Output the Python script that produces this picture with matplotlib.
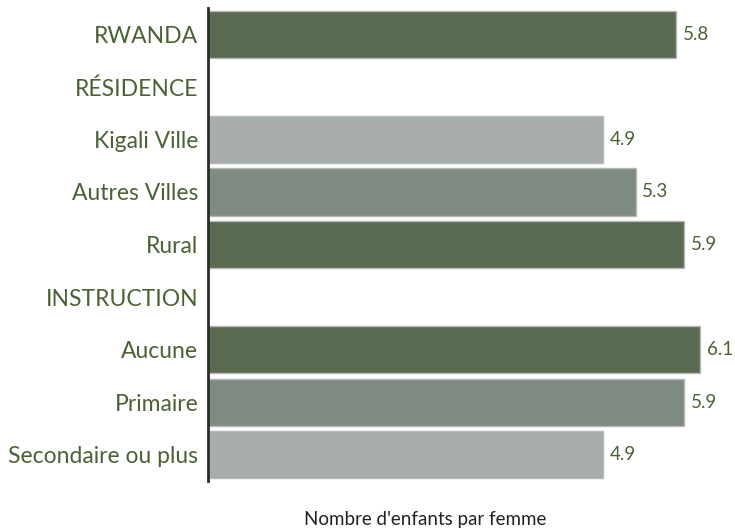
import matplotlib
matplotlib.use("Agg")
import matplotlib.pyplot as plt

# Donnees
categories = ["RWANDA", "RÉSIDENCE", "Kigali Ville", "Autres Villes", "Rural",
              "INSTRUCTION", "Aucune", "Primaire", "Secondaire ou plus"]
valeurs = [5.8, None, 4.9, 5.3, 5.9, None, 6.1, 5.9, 4.9]
couleurs = ["#5a6a51", None, "#a6adac", "#7f8a82", "#5a6a51",
            None, "#5a6a51", "#7f8a82", "#a6adac"]

texte_vert = "#4a6234"
plt.rcParams['font.family'] = ['Lato', 'DejaVu Sans']

fig = plt.figure(figsize=(7.35, 5.31), dpi=100)
ax = fig.add_axes([208 / 735, 1 - 481 / 531, 1 - 208 / 735, 473 / 531])

for i, (v, c) in enumerate(zip(valeurs, couleurs)):
    if v is None:
        continue
    ax.barh(i, v, height=0.9, color=c, edgecolor="#b5b8b6", linewidth=1)
    ax.text(v + 0.08, i, f"{v:.1f}", va="center", ha="left",
            fontsize=13.5, color=texte_vert)

ax.set_ylim(len(categories) - 0.5, -0.5)
ax.set_xlim(0, 527 / 80.7)
ax.set_yticks(range(len(categories)))
ax.set_yticklabels(categories, fontsize=16.5, color=texte_vert)
ax.tick_params(axis="y", length=0, pad=7)
ax.set_xticks([])

for s in ["top", "right", "bottom"]:
    ax.spines[s].set_visible(False)
ax.spines["left"].set_linewidth(2)
ax.spines["left"].set_color("#2b2b2b")

fig.text(425 / 735, 1 - 519 / 531, "Nombre d'enfants par femme",
         ha="center", va="center", fontsize=13.5, color="#222222")

fig.savefig("out.png", dpi=100)
